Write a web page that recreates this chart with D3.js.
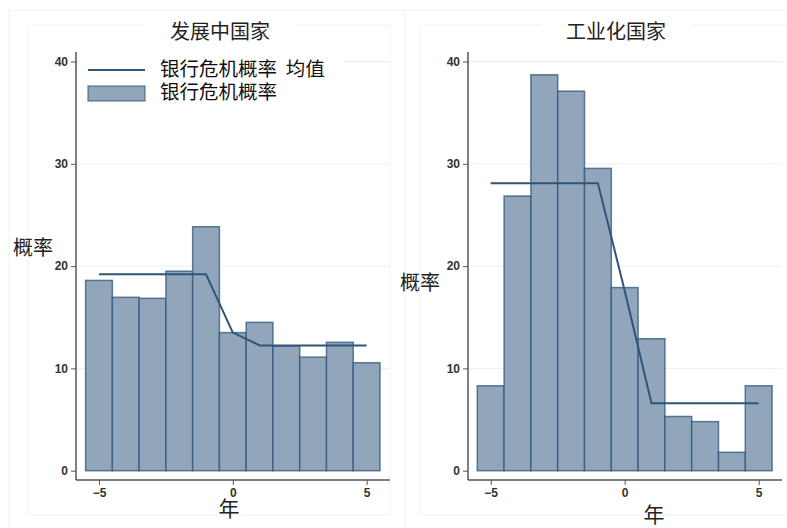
<!DOCTYPE html>
<html>
<head>
<meta charset="utf-8">
<script src="https://cdn.jsdelivr.net/npm/d3@7"></script>
<style>
  body { margin: 0; background: #fff; }
  svg { display: block; }
</style>
</head>
<body>
<svg></svg>
<script>
// ====== données ======
const years = [-5, -4, -3, -2, -1, 0, 1, 2, 3, 4, 5];
const dev_prob = [18.6, 16.95, 16.85, 19.5, 23.85, 13.5, 14.5, 12.2, 11.1, 12.55, 10.55];
const ind_prob = [8.3, 26.85, 38.7, 37.1, 29.55, 17.9, 12.9, 5.3, 4.8, 1.8, 8.3];
// moyenne : avant crise / année 0 / après crise
const dev_mean = [19.2, 19.2, 19.2, 19.2, 19.2, 13.5, 12.25, 12.25, 12.25, 12.25, 12.25];
const ind_mean = [28.1, 28.1, 28.1, 28.1, 28.1, 17.6, 6.6, 6.6, 6.6, 6.6, 6.6];
const y_ticks = [0, 10, 20, 30, 40];
const x_ticks = [-5, 0, 5];
const legend_labels = ["银行危机概率  均值", "银行危机概率"];

const width = 787, height = 528;
const svg = d3.select("svg").attr("width", width).attr("height", height);

const fillBar = "#91a6bb";
const lineCol = "#2f5579";
const cjk = "'Noto Sans CJK SC', 'Noto Sans', sans-serif";
const latin = "'Liberation Sans', Arial, sans-serif";

// cadres très pâles (style Stata)
svg.append("rect").attr("x", 9).attr("y", 10).attr("width", 790).attr("height", 530)
  .attr("fill", "none").attr("stroke", "#eef3f5");
svg.append("line").attr("x1", 405).attr("x2", 405).attr("y1", 10).attr("y2", 528)
  .attr("stroke", "#eef3f5");

const panels = [
  { title: "发展中国家", values: dev_prob, mean: dev_mean, axisX: 76, x0: 85.6, x1: 380, axisEnd: 390,
    titleX: 220, ylabX: 33, ylabY: 255, xlabX: 229, xlabY: 516, legend: true, boxX: 28, boxW: 362 },
  { title: "工业化国家", values: ind_prob, mean: ind_mean, axisX: 468, x0: 477.3, x1: 772.1, axisEnd: 782,
    titleX: 616, ylabX: 420, ylabY: 290, xlabX: 654, xlabY: 522, legend: false, boxX: 420, boxW: 367 }
];

const y = d3.scaleLinear().domain([0, 40]).range([470.7, 61.5]);
const axisY = 480;

panels.forEach(p => {
  const g = svg.append("g");
  const x = d3.scaleLinear().domain([-5.5, 5.5]).range([p.x0, p.x1]);

  // cadre du panneau
  g.append("rect").attr("x", p.boxX).attr("y", 25).attr("width", p.boxW).attr("height", 490)
    .attr("fill", "none").attr("stroke", "#eef3f5");

  // grille
  g.selectAll(".grid").data(y_ticks.slice(1)).enter().append("line")
    .attr("x1", p.axisX).attr("x2", p.axisEnd)
    .attr("y1", d => y(d)).attr("y2", d => y(d))
    .attr("stroke", "#e8f0f3").attr("stroke-width", 1);

  // barres
  g.selectAll(".bar").data(p.values).enter().append("rect")
    .attr("x", (d, i) => x(years[i] - 0.5))
    .attr("width", (d, i) => x(years[i] + 0.5) - x(years[i] - 0.5))
    .attr("y", d => y(d))
    .attr("height", d => y(0) - y(d))
    .attr("fill", fillBar)
    .attr("stroke", lineCol).attr("stroke-opacity", 0.75).attr("stroke-width", 1.5);

  // ligne de moyenne
  const line = d3.line().x((d, i) => x(years[i])).y(d => y(d));
  g.append("path").datum(p.mean).attr("d", line)
    .attr("fill", "none").attr("stroke", lineCol).attr("stroke-width", 2);

  // axe Y
  const ay = g.append("g").attr("transform", `translate(${p.axisX},0)`)
    .call(d3.axisLeft(y).tickValues(y_ticks).tickSize(5).tickPadding(3));
  ay.select(".domain").attr("d", `M0,${52}V${axisY}`).attr("stroke", "#555").attr("stroke-width", 1.5);
  ay.selectAll(".tick line").attr("stroke", "#555");
  ay.selectAll("text").attr("font-family", latin)
    .attr("font-size", 12).attr("font-weight", "bold").attr("fill", "#333");

  // axe X
  const ax = g.append("g").attr("transform", `translate(0,${axisY})`)
    .call(d3.axisBottom(x).tickValues(x_ticks).tickSize(5).tickPadding(3));
  ax.select(".domain").attr("d", `M${p.axisX},0H${p.axisEnd}`).attr("stroke", "#555").attr("stroke-width", 1.5);
  ax.selectAll(".tick line").attr("stroke", "#555");
  ax.selectAll("text").attr("font-family", latin)
    .attr("font-size", 12).attr("font-weight", "bold").attr("fill", "#333");

  // titre
  g.append("rect").attr("x", p.titleX - 75).attr("y", 14).attr("width", 150).attr("height", 30).attr("fill", "#fff");
  g.append("text").attr("x", p.titleX).attr("y", 39).attr("text-anchor", "middle")
    .attr("font-family", cjk).attr("font-size", 20).attr("fill", "#222").text(p.title);

  // labels
  g.append("text").attr("x", p.ylabX).attr("y", p.ylabY).attr("text-anchor", "middle")
    .attr("font-family", cjk).attr("font-size", 20).attr("fill", "#222").text("概率");
  g.append("text").attr("x", p.xlabX).attr("y", p.xlabY).attr("text-anchor", "middle")
    .attr("font-family", cjk).attr("font-size", 21).attr("fill", "#222").text("年");

  // légende
  if (p.legend) {
    const lg = g.append("g");
    lg.append("rect").attr("x", 80).attr("y", 58).attr("width", 265).attr("height", 48).attr("fill", "#fff");
    lg.append("line").attr("x1", 88).attr("x2", 145).attr("y1", 70).attr("y2", 70)
      .attr("stroke", lineCol).attr("stroke-width", 2);
    lg.append("rect").attr("x", 88).attr("y", 86).attr("width", 57).attr("height", 15)
      .attr("fill", fillBar).attr("stroke", lineCol).attr("stroke-opacity", 0.75).attr("stroke-width", 1.2);
    lg.selectAll(".lt").data(legend_labels).enter().append("text")
      .attr("x", 160).attr("y", (d, i) => 76 + i * 23)
      .attr("font-family", cjk).attr("font-size", 19.5).attr("fill", "#111")
      .attr("xml:space", "preserve").style("white-space", "pre")
      .text(d => d);
  }
});
</script>
</body>
</html>
